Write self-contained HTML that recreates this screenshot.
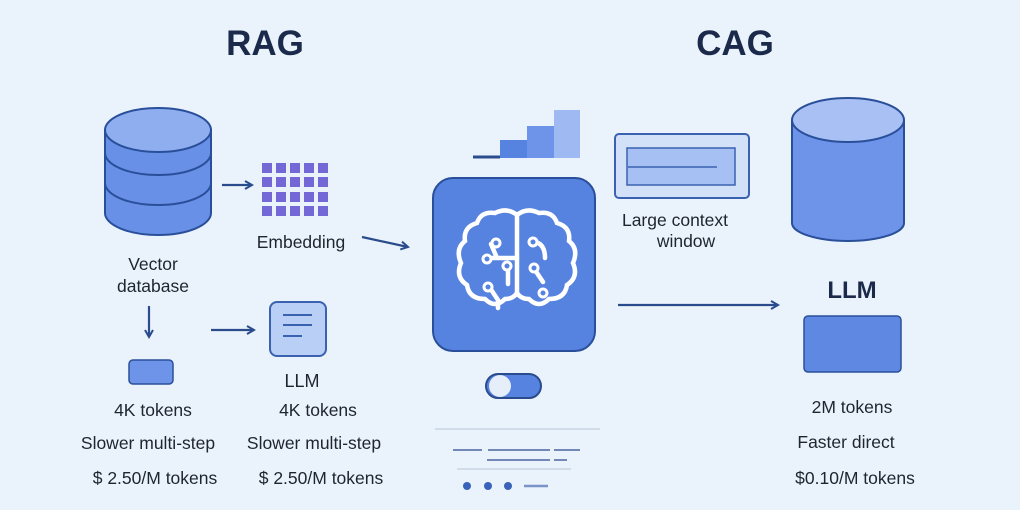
<!DOCTYPE html>
<html><head><meta charset="utf-8"><style>
html,body{margin:0;padding:0;background:#eaf3fc;}
svg{display:block;font-family:"Liberation Sans",sans-serif;}
</style></head><body>
<svg width="1020" height="510" viewBox="0 0 1020 510" xmlns="http://www.w3.org/2000/svg">
<rect width="1020" height="510" fill="#eaf3fc"/>
<defs>
<marker id="ah" markerWidth="10" markerHeight="10" refX="8" refY="5" orient="auto" markerUnits="userSpaceOnUse">
<path d="M1,1 L8,5 L1,9" fill="none" stroke="#2a4c8c" stroke-width="2"/></marker>
</defs>
<g font-weight="bold" fill="#1b2a4a" font-size="35" text-anchor="middle">
<text x="265" y="55">RAG</text><text x="735" y="55">CAG</text></g>

<!-- vector db -->
<g stroke="#2a4f9a" stroke-width="2" fill="#6890e6">
<path d="M105,130 v83 a53,22 0 0 0 106,0 v-83z"/>
<path d="M105,153 a53,22 0 0 0 106,0" fill="none"/>
<path d="M105,183 a53,22 0 0 0 106,0" fill="none"/>
<ellipse cx="158" cy="130" rx="53" ry="22" fill="#8eaef0"/>
</g>
<!-- embedding grid -->
<g fill="#7468d6">
<rect x="262" y="163" width="10" height="10"/><rect x="276" y="163" width="10" height="10"/><rect x="290" y="163" width="10" height="10"/><rect x="304" y="163" width="10" height="10"/><rect x="318" y="163" width="10" height="10"/>
<rect x="262" y="177" width="10" height="10"/><rect x="276" y="177" width="10" height="10"/><rect x="290" y="177" width="10" height="10"/><rect x="304" y="177" width="10" height="10"/><rect x="318" y="177" width="10" height="10"/>
<rect x="262" y="192" width="10" height="10"/><rect x="276" y="192" width="10" height="10"/><rect x="290" y="192" width="10" height="10"/><rect x="304" y="192" width="10" height="10"/><rect x="318" y="192" width="10" height="10"/>
<rect x="262" y="206" width="10" height="10"/><rect x="276" y="206" width="10" height="10"/><rect x="290" y="206" width="10" height="10"/><rect x="304" y="206" width="10" height="10"/><rect x="318" y="206" width="10" height="10"/>
</g>
<g stroke="#2a4c8c" stroke-width="2.2" fill="none" marker-end="url(#ah)">
<line x1="222" y1="185" x2="252" y2="185"/>
<line x1="362" y1="237" x2="408" y2="247"/>
<line x1="149" y1="306" x2="149" y2="337"/>
<line x1="211" y1="330" x2="254" y2="330"/>
<line x1="618" y1="305" x2="778" y2="305"/>
</g>
<g font-size="17.5" fill="#1e2430" text-anchor="middle">
<text x="301" y="248">Embedding</text>
<text x="153" y="270">Vector</text>
<text x="153" y="292">database</text>
<text x="302" y="387" font-size="18">LLM</text>
<text x="153" y="416">4K tokens</text>
<text x="318" y="416">4K tokens</text>
<text x="148" y="449">Slower multi-step</text>
<text x="314" y="449">Slower multi-step</text>
<text x="155" y="484">$ 2.50/M tokens</text>
<text x="321" y="484">$ 2.50/M tokens</text>
<text x="675" y="226">Large context</text>
<text x="686" y="247">window</text>
<text x="852" y="413">2M tokens</text>
<text x="846" y="448">Faster direct</text>
<text x="855" y="484">$0.10/M tokens</text>
</g>
<text x="852" y="298" font-size="24" font-weight="bold" fill="#1b2a4a" text-anchor="middle">LLM</text>

<rect x="129" y="360" width="44" height="24" rx="4" fill="#6e94ea" stroke="#2a4f9a" stroke-width="1.5"/>
<rect x="270" y="302" width="56" height="54" rx="7" fill="#b9cff6" stroke="#3a62b0" stroke-width="2"/>
<g stroke="#3a62b0" stroke-width="2"><line x1="283" y1="315" x2="312" y2="315"/><line x1="283" y1="325" x2="312" y2="325"/><line x1="283" y1="336" x2="302" y2="336"/></g>

<!-- bars -->
<rect x="500" y="140" width="27" height="18" fill="#5682e0"/>
<rect x="527" y="126" width="27" height="32" fill="#6e94ea"/>
<rect x="554" y="110" width="26" height="48" fill="#9fbaf2"/>
<line x1="473" y1="157" x2="500" y2="157" stroke="#2a4c8c" stroke-width="3"/>
<!-- brain box -->
<rect x="433" y="178" width="162" height="173" rx="20" fill="#5682e0" stroke="#2a4f9a" stroke-width="2"/>
<g stroke="#fff" stroke-width="4.5" fill="none" stroke-linecap="round">
<path d="M517,215 q-10,-8 -22,-2 q-14,-2 -18,10 q-14,4 -12,18 q-10,8 -4,22 q-6,14 6,22 q2,14 18,14 q10,10 20,0 q8,0 12,-6 v-80z"/>
<path d="M517,215 q10,-8 22,-2 q14,-2 18,10 q14,4 12,18 q10,8 4,22 q6,14 -6,22 q-2,14 -18,14 q-10,10 -20,0 q-8,0 -12,-6"/>
<path d="M517,258 h-30 M497,258 l-6,-14 M508,268 v16 M490,288 l8,12 v8 M535,242 q10,2 10,16 M535,270 l8,12"/>
</g>
<g fill="#5682e0" stroke="#fff" stroke-width="3">
<circle cx="496" cy="243" r="4"/><circle cx="487" cy="259" r="4"/><circle cx="507" cy="266" r="4"/><circle cx="488" cy="287" r="4"/>
<circle cx="533" cy="242" r="4"/><circle cx="534" cy="268" r="4"/><circle cx="543" cy="293" r="4"/>
</g>
<!-- toggle -->
<rect x="486" y="374" width="55" height="24" rx="12" fill="#5682e0" stroke="#2a4c8c" stroke-width="2"/>
<circle cx="500" cy="386" r="11" fill="#e6eefa"/>
<g stroke-width="1.5">
<line x1="435" y1="429" x2="600" y2="429" stroke="#c8d4e4"/>
<line x1="453" y1="450" x2="482" y2="450" stroke="#4a64a0"/><line x1="488" y1="450" x2="550" y2="450" stroke="#4a64a0"/><line x1="554" y1="450" x2="580" y2="450" stroke="#4a64a0"/>
<line x1="487" y1="460" x2="550" y2="460" stroke="#4a64a0"/><line x1="554" y1="460" x2="567" y2="460" stroke="#4a64a0"/>
<line x1="457" y1="469" x2="571" y2="469" stroke="#c8d4e4"/>
<line x1="524" y1="486" x2="548" y2="486" stroke="#7a94c8" stroke-width="2.5"/>
</g>
<g fill="#3a62b8"><circle cx="467" cy="486" r="4"/><circle cx="488" cy="486" r="4"/><circle cx="508" cy="486" r="4"/></g>

<!-- context window -->
<rect x="615" y="134" width="134" height="64" rx="4" fill="#d2e0f8" stroke="#3a62b0" stroke-width="2"/>
<rect x="627" y="148" width="108" height="37" fill="#a7c0f4" stroke="#3a62b0" stroke-width="1.5"/>
<line x1="628" y1="167" x2="717" y2="167" stroke="#3a62b0" stroke-width="1.5"/>

<!-- right cylinder -->
<path d="M792,120 v103 a56,18 0 0 0 112,0 v-103" fill="#6e94ea" stroke="#2a4f9a" stroke-width="2"/>
<ellipse cx="848" cy="120" rx="56" ry="22" fill="#a8c0f4" stroke="#2a4f9a" stroke-width="2"/>
<rect x="804" y="316" width="97" height="56" rx="4" fill="#5e88e2" stroke="#2a4f9a" stroke-width="1.5"/>
</svg>
</body></html>
